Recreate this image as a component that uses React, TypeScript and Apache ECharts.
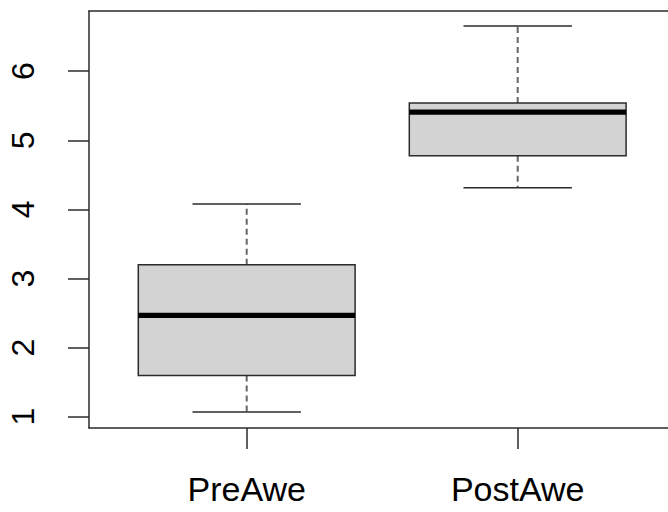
import React, { useEffect, useRef } from "react";
import * as echarts from "echarts";

const categories = ["PreAwe", "PostAwe"];
const positions = [1, 2];
const whiskerLow = [1.067, 4.314];
const q1 = [1.598, 4.777];
const median = [2.466, 5.408];
const q3 = [3.2, 5.538];
const whiskerHigh = [4.077, 6.653];
const yTicks = [1, 2, 3, 4, 5, 6];

const FONT = "'Liberation Sans', Arial, sans-serif";
const LINE = "#2b2b2b";

export default function App() {
  const ref = useRef<HTMLDivElement>(null);
  useEffect(() => {
    if (!ref.current) return;
    const chart = echarts.init(ref.current, null, { renderer: "svg" });
    const data = positions.map((p, i) => [p, whiskerLow[i], q1[i], median[i], q3[i], whiskerHigh[i]]);
    const boxHalf = 0.4;
    const capHalf = 0.2;
    chart.setOption({
      animation: false,
      backgroundColor: "#ffffff",
      grid: {
        left: 89,
        top: 11,
        right: 0,
        bottom: 84,
        show: false,
      },
      xAxis: [
        {
          type: "value",
          position: "bottom",
          min: 0.4181,
          max: 2.5546,
          splitLine: { show: false },
          axisLine: { show: true, onZero: false, lineStyle: { color: LINE, width: 1.5 } },
          axisTick: {
            show: true,
            customValues: positions,
            length: 21,
            lineStyle: { color: LINE, width: 1.5 },
          },
          axisLabel: {
            show: true,
            customValues: positions,
            formatter: (v: number) => categories[positions.indexOf(Math.round(v))] ?? "",
            margin: 44,
            fontSize: 34,
            fontFamily: FONT,
            color: "#000",
          },
        },
        {
          type: "value",
          position: "top",
          min: 0.4181,
          max: 2.5546,
          splitLine: { show: false },
          axisLine: { show: true, onZero: false, lineStyle: { color: LINE, width: 1.5 } },
          axisTick: { show: false },
          axisLabel: { show: false },
        },
      ],
      yAxis: {
        type: "value",
        min: 0.837,
        max: 6.87,
        splitLine: { show: false },
        axisLine: { show: true, onZero: false, lineStyle: { color: LINE, width: 1.5 } },
        axisTick: {
          show: true,
          customValues: yTicks,
          length: 21,
          lineStyle: { color: LINE, width: 1.5 },
        },
        axisLabel: {
          show: true,
          customValues: yTicks,
          rotate: 90,
          margin: 50,
          fontSize: 32,
          fontFamily: FONT,
          color: "#000",
        },
      },
      series: [
        {
          type: "custom",
          xAxisIndex: 0,
          data,
          clip: false,
          renderItem: (params: any, api: any) => {
            const x = api.value(0);
            const lo = api.value(1);
            const a = api.value(2);
            const m = api.value(3);
            const b = api.value(4);
            const hi = api.value(5);
            const pLo = api.coord([x, lo]);
            const pA = api.coord([x, a]);
            const pM = api.coord([x, m]);
            const pB = api.coord([x, b]);
            const pHi = api.coord([x, hi]);
            const left = api.coord([x - boxHalf, a])[0];
            const right = api.coord([x + boxHalf, a])[0];
            const capL = api.coord([x - capHalf, a])[0];
            const capR = api.coord([x + capHalf, a])[0];
            const cx = pA[0];
            const dashStyle = { stroke: "#666666", lineWidth: 2, lineDash: [6, 4] };
            const solid = { stroke: LINE, lineWidth: 1.5 };
            return {
              type: "group",
              children: [
                { type: "line", shape: { x1: cx, y1: pA[1], x2: cx, y2: pLo[1] }, style: dashStyle },
                { type: "line", shape: { x1: cx, y1: pB[1], x2: cx, y2: pHi[1] }, style: dashStyle },
                { type: "line", shape: { x1: capL, y1: pLo[1], x2: capR, y2: pLo[1] }, style: solid },
                { type: "line", shape: { x1: capL, y1: pHi[1], x2: capR, y2: pHi[1] }, style: solid },
                {
                  type: "rect",
                  shape: { x: left, y: pB[1], width: right - left, height: pA[1] - pB[1] },
                  style: { fill: "#d3d3d3", stroke: LINE, lineWidth: 1.5 },
                },
                { type: "line", shape: { x1: left, y1: pM[1], x2: right, y2: pM[1] }, style: { stroke: "#000", lineWidth: 5.3 } },
              ],
            };
          },
        },
      ],
    });
    return () => chart.dispose();
  }, []);
  return (
    <div
      ref={ref}
      style={{ position: "fixed", left: 0, top: 0, width: 668, height: 512, background: "#fff" }}
    />
  );
}
